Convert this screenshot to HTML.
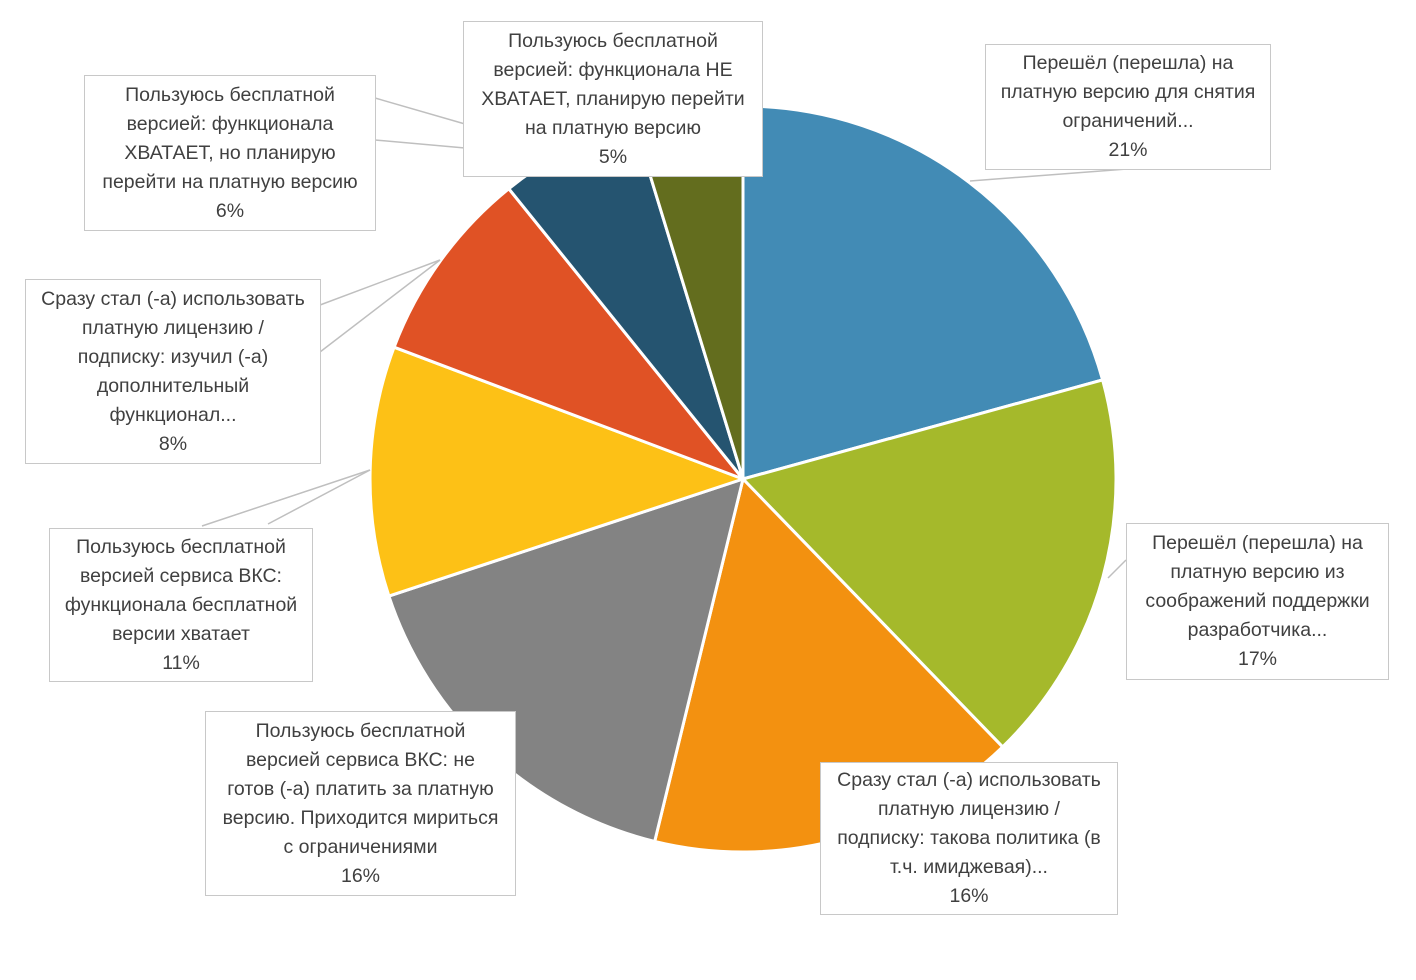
<!DOCTYPE html>
<html><head><meta charset="utf-8">
<style>
html,body{margin:0;padding:0;background:#fff;}
body{width:1416px;height:980px;overflow:hidden;position:relative;font-family:"Liberation Sans","DejaVu Sans",sans-serif;}
svg{position:absolute;left:0;top:0;}
.b{position:absolute;border:1.5px solid #c8c8c8;background:#fff;box-sizing:border-box;color:#404040;font-size:19.5px;line-height:29px;text-align:center;display:flex;flex-direction:column;justify-content:center;}
</style></head><body>
<svg width="1416" height="980" id="s">
<g id="p"></g>
<g stroke="#bfbfbf" stroke-width="1.5" fill="none">
<polyline points="970,181 1127,169"/>
<polyline points="1108,578 1126,560"/>
<polyline points="440,260 320,305"/>
<polyline points="440,260 320,352"/>
<polyline points="370,470 202,526"/>
<polyline points="370,470 268,524"/>
<polyline points="375,98 465,124"/>
<polyline points="375,140 465,148"/>
</g>
</svg>
<div class="b" style="left:985px;top:44px;width:286px;height:126px">Перешёл (перешла) на<br>платную версию для снятия<br>ограничений...<br>21%</div>
<div class="b" style="left:1126px;top:523px;width:263px;height:157px">Перешёл (перешла) на<br>платную версию из<br>соображений поддержки<br>разработчика...<br>17%</div>
<div class="b" style="left:820px;top:762px;width:298px;height:153px">Сразу стал (-а) использовать<br>платную лицензию /<br>подписку: такова политика (в<br>т.ч. имиджевая)...<br>16%</div>
<div class="b" style="left:205px;top:711px;width:311px;height:185px">Пользуюсь бесплатной<br>версией сервиса ВКС: не<br>готов (-а) платить за платную<br>версию. Приходится мириться<br>с ограничениями<br>16%</div>
<div class="b" style="left:49px;top:528px;width:264px;height:154px">Пользуюсь бесплатной<br>версией сервиса ВКС:<br>функционала бесплатной<br>версии хватает<br>11%</div>
<div class="b" style="left:25px;top:279px;width:296px;height:185px">Сразу стал (-а) использовать<br>платную лицензию /<br>подписку: изучил (-а)<br>дополнительный<br>функционал...<br>8%</div>
<div class="b" style="left:84px;top:75px;width:292px;height:156px">Пользуюсь бесплатной<br>версией: функционала<br>ХВАТАЕТ, но планирую<br>перейти на платную версию<br>6%</div>
<div class="b" style="left:463px;top:21px;width:300px;height:156px">Пользуюсь бесплатной<br>версией: функционала НЕ<br>ХВАТАЕТ, планирую перейти<br>на платную версию<br>5%</div>
<script>
var cx=743,cy=479,r=373;
var b=[0,74.6,135.9,193.7,251.7,290.7,321.1,343,360];
var c=["#428bb5","#a5b92b","#f39110","#838383","#fdc116","#e05225","#255470","#636d1e"];
var g=document.getElementById("p"),h="";
function pt(a){a=a*Math.PI/180;return (cx+r*Math.sin(a)).toFixed(1)+","+(cy-r*Math.cos(a)).toFixed(1);}
for(var i=0;i<8;i++){var l=b[i+1]-b[i]>180?1:0;
h+='<path d="M'+cx+','+cy+' L'+pt(b[i])+' A'+r+','+r+' 0 '+l+' 1 '+pt(b[i+1])+' Z" fill="'+c[i]+'" stroke="#fff" stroke-width="3"/>';}
g.innerHTML=h;
</script>
</body></html>
